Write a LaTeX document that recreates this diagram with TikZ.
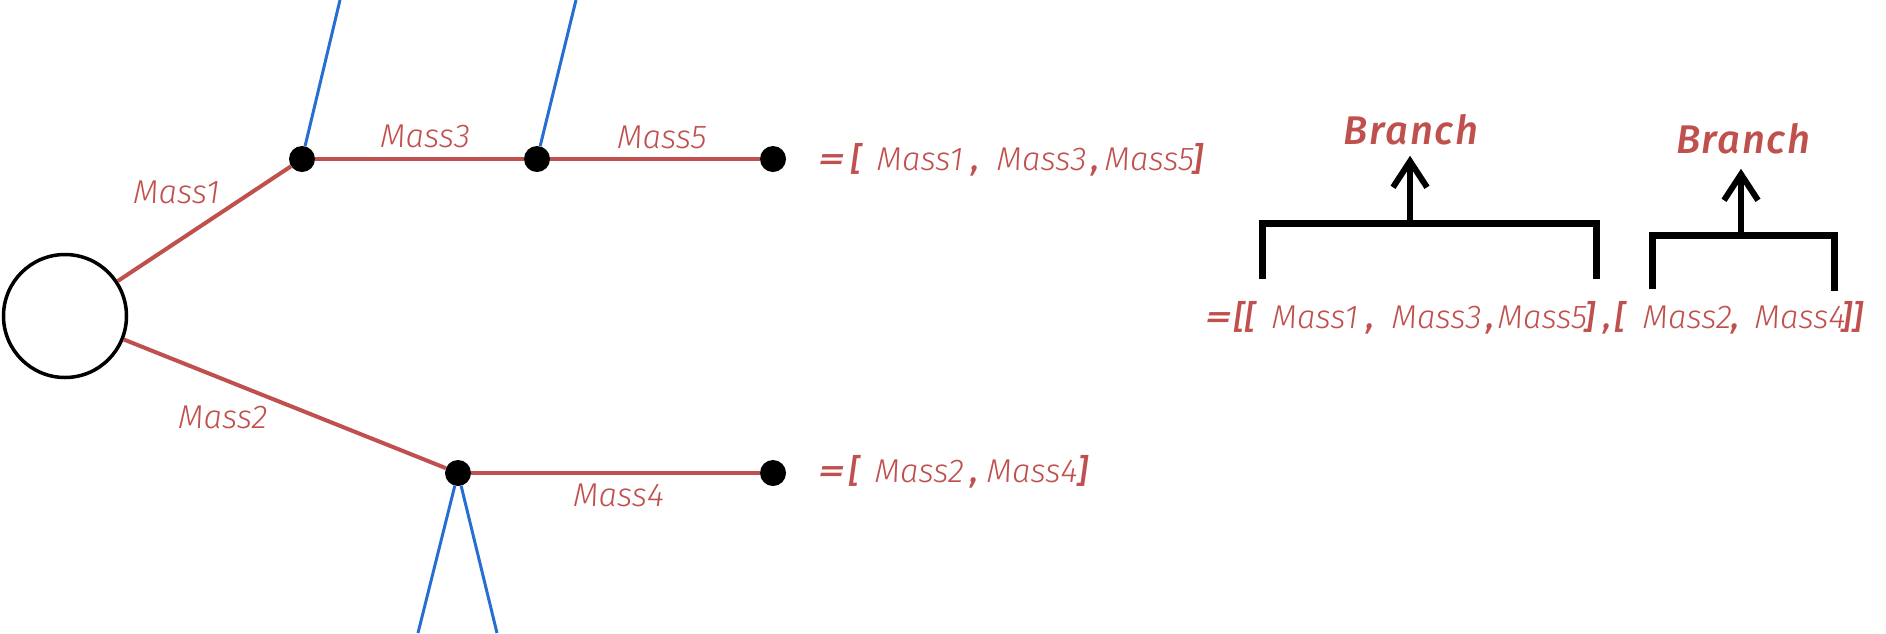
\documentclass[tikz,border=0pt]{standalone}
\usepackage{fontspec}
\newfontfamily\massfont{Fira Sans}[UprightFont={* Light},ItalicFont={* Light Italic},BoldItalicFont={* Medium Italic}]
\newfontfamily\branchfont{Fira Sans}[ItalicFont={* Medium Italic},LetterSpace=4]
\newcommand{\heavy}[1]{{\bfseries #1}}
\newcommand{\equal}{\heavy{\scalebox{1.6}[1]{=}}}
\newcommand{\piece}[2]{\rlap{\hspace{#1}#2}}
\usetikzlibrary{arrows.meta}
\definecolor{massred}{RGB}{192,80,77}
\definecolor{stringblue}{RGB}{38,110,210}
\tikzset{
  joint/.style={circle,fill=black,inner sep=0pt,minimum size=26pt},
  rod/.style={massred,line width=4pt},
  string/.style={stringblue,line width=3pt},
  mass/.style={massred,inner sep=0pt,anchor=base west,font=\massfont\itshape\fontsize{33}{40}\selectfont},
  branchname/.style={massred,inner sep=0pt,anchor=base,font=\branchfont\itshape\fontsize{40}{48}\selectfont},
  bracket/.style={line width=7pt},
  uparrow/.style={line width=6pt,-{Straight Barb[length=26pt,width=34pt]}},
}

\begin{document}
\begin{tikzpicture}[x=1pt,y=-1pt]
    \useasboundingbox (0,0) rectangle (1886,633);
    % the tree
    \node[draw,circle,line width=3.5pt,minimum size=123pt,inner sep=0pt] (hub) at (65,316) {};
    \node[joint] (m1) at (302,159) {};
    \node[joint] (m3) at (537,159) {};
    \node[joint] (m5) at (773,159) {};
    \node[joint] (m2) at (458,473) {};
    \node[joint] (m4) at (773,473) {};
    \coordinate (s1) at (340,0);
    \coordinate (s3) at (576,0);
    \coordinate (s2a) at (418,633);
    \coordinate (s2b) at (497,633);
    \draw[rod] (hub) -- (m1);
    \draw[rod] (m1) -- (m3);
    \draw[rod] (m3) -- (m5);
    \draw[rod] (hub) -- (m2);
    \draw[rod] (m2) -- (m4);
    \foreach \a/\b in {m1/s1, m3/s3, m2/s2a, m2/s2b}
        \draw[string] (\a) -- (\b);
    \node[mass] (l1) at (133,203) {Mass1};
    \node[mass] (l3) at (380,147) {Mass3};
    \node[mass] (l5) at (617,148) {Mass5};
    \node[mass] (l2) at (178,428) {Mass2};
    \node[mass] (l4) at (573,506) {Mass4};
    % the lists
    \node[mass] (list1) at (818,170)
        {\piece{0pt}{\equal}\piece{33pt}{\heavy{[}}\piece{58pt}{Mass1}\piece{153pt}{\heavy{,}}%
         \piece{178pt}{Mass3}\piece{273pt}{\heavy{,}}\piece{286pt}{Mass5}\piece{374pt}{\heavy{]}}};
    \node[mass] (list2) at (818,482)
        {\piece{0pt}{\equal}\piece{31pt}{\heavy{[}}\piece{56pt}{Mass2}\piece{152pt}{\heavy{,}}%
         \piece{168pt}{Mass4}\piece{259pt}{\heavy{]}}};
    \node[mass] (lists) at (1205,328)
        {\piece{0pt}{\equal}\piece{29pt}{\heavy{[[}}\piece{66pt}{Mass1}\piece{161pt}{\heavy{,}}%
         \piece{186pt}{Mass3}\piece{281pt}{\heavy{,}}\piece{292pt}{Mass5}\piece{379pt}{\heavy{]}}%
         \piece{398pt}{\heavy{,}}\piece{410pt}{\heavy{[}}\piece{437pt}{Mass2}\piece{526pt}{\heavy{,}}%
         \piece{549pt}{Mass4}\piece{636pt}{\heavy{]]}}};
    % the brackets
    \draw[bracket] (1262,279) -- (1262,223) -- (1596,223) -- (1596,279);
    \draw[bracket] (1652,289) -- (1652,235) -- (1834,235) -- (1834,291);
    \coordinate (g1) at (1410,223);
    \coordinate (g2) at (1741,235);
    \node[branchname] (branch1) at (1411,144) {Branch};
    \node[branchname] (branch2) at (1743,153) {Branch};
    \draw[uparrow,shorten >=11pt] (g1) -- (g1 |- branch1.south);
    \draw[uparrow,shorten >=15pt] (g2) -- (g2 |- branch2.south);
\end{tikzpicture}
\end{document}
